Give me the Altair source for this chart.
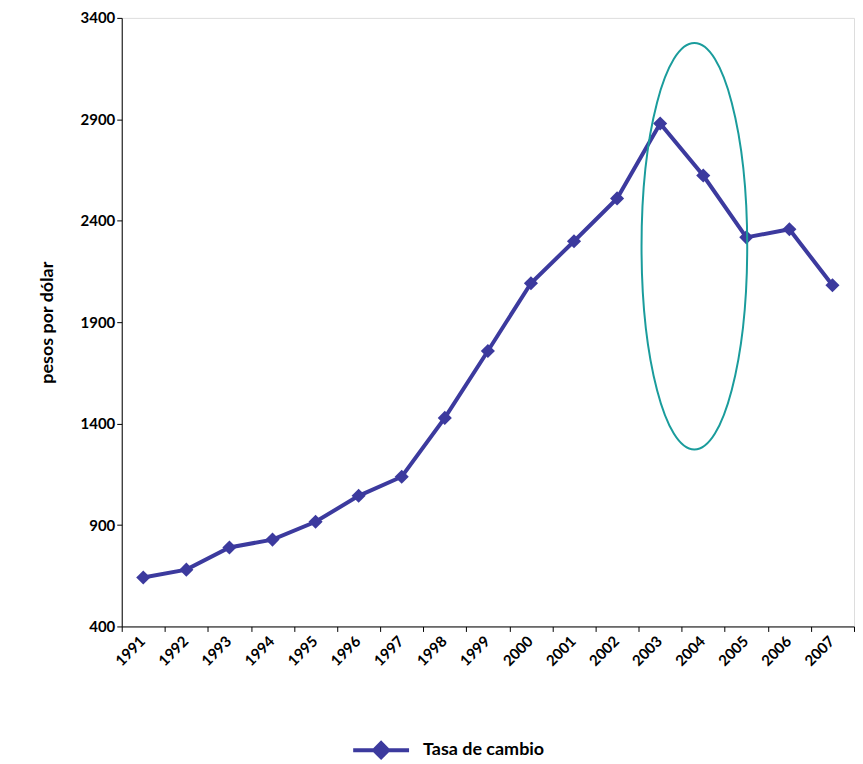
import altair as alt
import pandas as pd

YEARS = [str(y) for y in range(1991, 2008)]
RATES = [641, 680, 789, 828, 916, 1044, 1138, 1428, 1758, 2092,
         2299, 2510, 2879, 2623, 2318, 2358, 2082]
SERIES = ['Tasa de cambio'] * len(YEARS)

FONT = 'Lato'
NAVY = '#3c3a9e'

data = pd.DataFrame({'year': YEARS, 'rate': RATES, 'serie': SERIES})

base = alt.Chart(data).encode(
    x=alt.X('year:N', title=None, scale=alt.Scale(paddingInner=0, paddingOuter=0),
            axis=alt.Axis(labelAngle=-45, tickBand='extent', labelFontWeight='bold',
                          labelFontSize=15, labelColor='black', domainColor='black',
                          tickColor='black', labelAlign='right', labelBaseline='top',
                          labelOffset=-6)),
    y=alt.Y('rate:Q', title='pesos por dólar',
            scale=alt.Scale(domain=[400, 3400], nice=False),
            axis=alt.Axis(values=list(range(400, 3401, 500)), grid=False, format='d',
                          labelFontWeight='bold', labelFontSize=15, labelColor='black',
                          titleFontSize=18, titleFontWeight='bold', titleColor='black',
                          domainColor='black', tickColor='black', titlePadding=24)),
    color=alt.Color('serie:N', title=None, scale=alt.Scale(range=[NAVY]),
                    legend=alt.Legend(orient='none', legendX=248, legendY=722,
                                      symbolType='M-2.8,0 L2.8,0 M0,-0.7 L0.7,0 L0,0.7 L-0.7,0 Z',
                                      labelFontSize=18, labelFontWeight='bold',
                                      labelColor='black', symbolSize=400, labelOffset=30,
                                      symbolStrokeWidth=4, symbolFillColor=NAVY)),
)

line = base.mark_line(strokeWidth=4, point=alt.OverlayMarkDef(shape='diamond', size=200,
                                                               filled=True, opacity=1))

ellipse = alt.Chart(pd.DataFrame({'a': [0]})).mark_point(
    shape='M0,-1 A0.26,1 0 1,1 0,1 A0.26,1 0 1,1 0,-1 Z',
    size=166000, stroke='#1a9c9c', strokeWidth=2, filled=False, opacity=1
).encode(x=alt.value(574), y=alt.value(229))

chart = (line + ellipse).properties(
    width=734, height=610, padding={'left': 30, 'top': 2, 'right': 0, 'bottom': 5}
).configure_view(stroke=None).configure(font=FONT)

chart.save('out.html', embed_options={'renderer': 'svg', 'actions': False})
